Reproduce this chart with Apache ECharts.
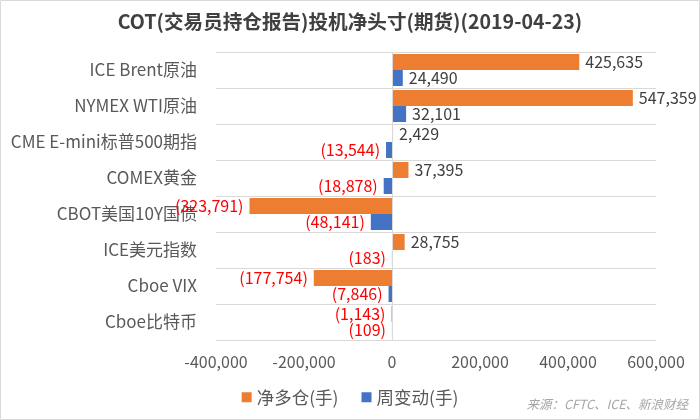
<!DOCTYPE html>
<html><head><meta charset="utf-8">
<script src="https://cdn.jsdelivr.net/npm/echarts@6/dist/echarts.min.js"></script>
<style>html,body{margin:0;padding:0;background:#fff}#c{width:700px;height:420px}</style>
</head><body><div id="c"></div>
<script>
const categories = ['ICE Brent原油','NYMEX WTI原油','CME E-mini标普500期指','COMEX黄金','CBOT美国10Y国债','ICE美元指数','Cboe VIX','Cboe比特币'];
const netLong = [425635, 547359, 2429, 37395, -323791, 28755, -177754, -1143];
const weeklyChange = [24490, 32101, -13544, -18878, -48141, -183, -7846, -109];
const xTicks = {min: -400000, max: 600000, interval: 200000};
const seriesNames = ['净多仓(手)', '周变动(手)'];

const FONT = '"Noto Sans CJK SC", "Noto Sans", sans-serif';
function fmt(v){ const s = Math.abs(v).toLocaleString('en-US'); return v < 0 ? '(' + s + ')' : s; }
function items(arr){
  return arr.map(v => ({
    value: v,
    label: v < 0 ? {position: 'left', color: '#FF0000'} : {position: 'right', color: '#404040'}
  }));
}
const chart = echarts.init(document.getElementById('c'), null, {renderer: 'canvas'});
chart.setOption({
  animation: false,
  title: {text: 'COT(交易员持仓报告)投机净头寸(期货)(2019-04-23)', left: 'center', top: 7,
    textStyle: {fontFamily: FONT, fontSize: 19.6, fontWeight: 'bold', color: '#404040'}},
  legend: {data: seriesNames, bottom: 9, left: 'center', icon: 'rect', itemWidth: 10, itemHeight: 10, itemGap: 23,
    textStyle: {fontFamily: FONT, fontSize: 17.5, color: '#595959'}},
  graphic: [
    {type: 'rect', shape: {x: 0.5, y: 0.5, width: 699, height: 419}, style: {fill: 'none', stroke: '#d9d9d9', lineWidth: 1}, silent: true},
    {type: 'text', right: 12, bottom: 9, style: {text: '来源：CFTC、ICE、新浪财经', fill: '#a6a6a6', font: 'italic 12.5px ' + FONT}}
  ],
  grid: {left: 216, right: 44, top: 52, bottom: 80},
  xAxis: {type: 'value', min: xTicks.min, max: xTicks.max, interval: xTicks.interval,
    axisLine: {show: false}, axisTick: {show: false}, splitLine: {show: false},
    axisLabel: {fontFamily: FONT, fontSize: 16, color: '#595959', margin: 14, formatter: v => v.toLocaleString('en-US')}},
  yAxis: {type: 'category', data: categories, inverse: true,
    axisLine: {show: false, onZero: false}, axisTick: {show: false},
    splitLine: {show: true, lineStyle: {color: '#d9d9d9', width: 1}},
    axisLabel: {fontFamily: FONT, fontSize: 17, color: '#595959', margin: 19}},
  series: [
    {name: seriesNames[0], type: 'bar', data: items(netLong), barGap: '0%', barCategoryGap: '11%',
      itemStyle: {color: '#ED7D31'},
      label: {show: true, distance: 6, fontFamily: FONT, fontSize: 16, formatter: p => fmt(p.value)},
      markLine: {silent: true, symbol: 'none', label: {show: false}, lineStyle: {color: '#d9d9d9', type: 'solid', width: 1},
        data: [{xAxis: 0}]}},
    {name: seriesNames[1], type: 'bar', data: items(weeklyChange), barGap: '0%', barCategoryGap: '11%',
      itemStyle: {color: '#4472C4'},
      label: {show: true, distance: 6, fontFamily: FONT, fontSize: 16, formatter: p => fmt(p.value)}}
  ]
});
</script></body></html>
